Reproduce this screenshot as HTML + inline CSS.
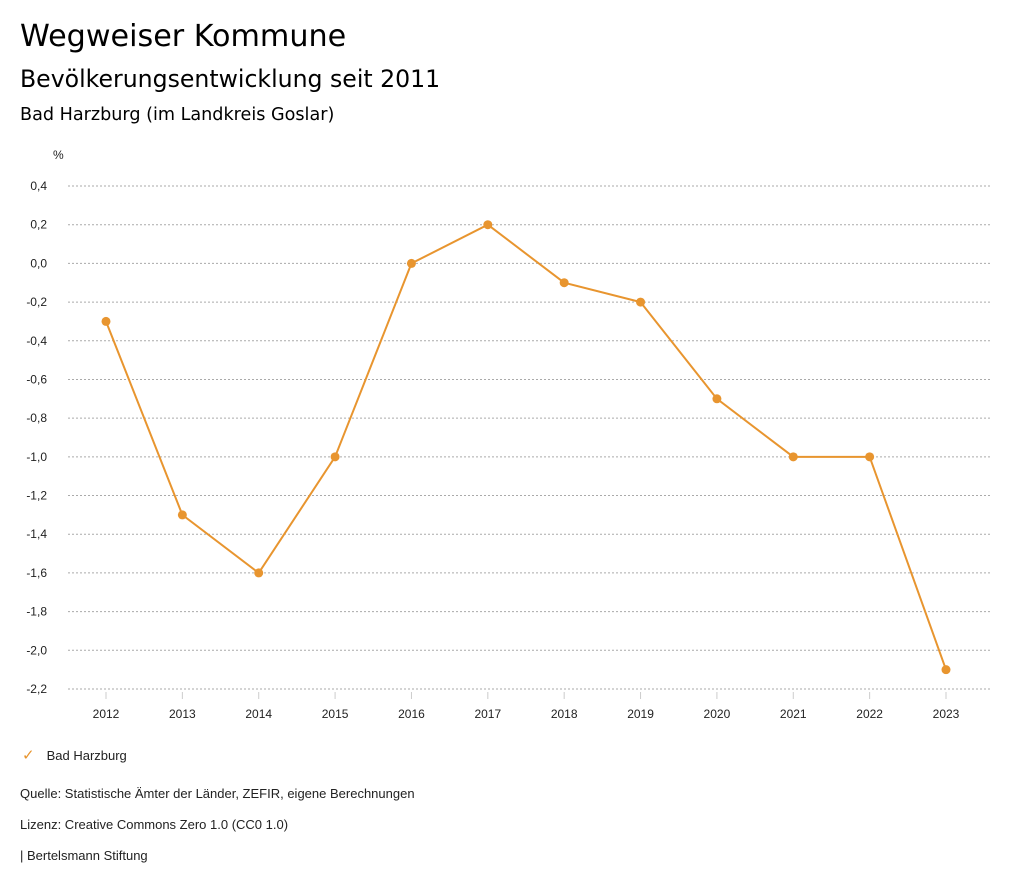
<!DOCTYPE html>
<html><head><meta charset="utf-8"><style>
body{margin:0;width:1024px;height:888px;background:#fff;font-family:"Liberation Sans","DejaVu Sans",sans-serif;color:#000;position:relative;overflow:hidden}
.t{position:absolute;white-space:nowrap}
.d{font-family:"DejaVu Sans","Liberation Sans",sans-serif}
</style></head><body>
<div class="t d" style="left:20px;top:19px;font-size:30.2px">Wegweiser Kommune</div>
<div class="t d" style="left:20px;top:65px;font-size:23.6px">Bevölkerungsentwicklung seit 2011</div>
<div class="t d" style="left:20px;top:105px;font-size:17.6px">Bad Harzburg (im Landkreis Goslar)</div>
<svg id="chart" width="1024" height="888" style="position:absolute;left:0;top:0"></svg>
<div class="t" style="left:22px;top:746px;font-size:13px;color:#222"><span style="color:#e8952f;font-size:15px;margin-right:12px">✓</span>Bad Harzburg</div>
<div class="t" style="left:20px;top:786px;font-size:13px;color:#222">Quelle: Statistische Ämter der Länder, ZEFIR, eigene Berechnungen</div>
<div class="t" style="left:20px;top:817px;font-size:13px;color:#222">Lizenz: Creative Commons Zero 1.0 (CC0 1.0)</div>
<div class="t" style="left:20px;top:848px;font-size:13px;color:#222">| Bertelsmann Stiftung</div>
<script>
const years=[2012,2013,2014,2015,2016,2017,2018,2019,2020,2021,2022,2023];
const values=[-0.3,-1.3,-1.6,-1.0,0.0,0.2,-0.1,-0.2,-0.7,-1.0,-1.0,-2.1];
const yTicks=[0.4,0.2,0,-0.2,-0.4,-0.6,-0.8,-1.0,-1.2,-1.4,-1.6,-1.8,-2.0,-2.2];
const svg=document.getElementById('chart');const NS='http://www.w3.org/2000/svg';
const x=i=>106+i*(946-106)/11;
const y=v=>186+(0.4-v)*(689-186)/2.6;
function mk(t,a,p){const e=document.createElementNS(NS,t);for(const k in a)e.setAttribute(k,a[k]);(p||svg).appendChild(e);return e;}
let u=mk('text',{x:53,y:159,'font-size':12,fill:'#222'});u.textContent='%';


yTicks.forEach(v=>{
 const g=mk('line',{x1:68,x2:990,y1:y(v),y2:y(v),stroke:'#aaa','stroke-dasharray':'2,2','stroke-width':1});
 
 
 const t=mk('text',{x:47,y:y(v)+4,'text-anchor':'end','font-size':12,fill:'#222'});
 t.textContent=v.toFixed(1).replace('.',',');
 
 
});
years.forEach((yr,i)=>{
 const l=mk('line',{x1:x(i),x2:x(i),y1:y(-2.2)+3,y2:y(-2.2)+10,stroke:'#ccc'});
 
 
 const t=mk('text',{x:x(i),y:718,'text-anchor':'middle','font-size':12,fill:'#222'});
 t.textContent=yr;
 
 
});
const p=mk('polyline',{points:values.map((v,i)=>x(i)+','+y(v)).join(' '),fill:'none',stroke:'#e8952f','stroke-width':2});


values.forEach((v,i)=>{
 const c=mk('circle',{cx:x(i),cy:y(v),r:4.5,fill:'#e8952f'});
 
 
});
</script>
</body></html>
